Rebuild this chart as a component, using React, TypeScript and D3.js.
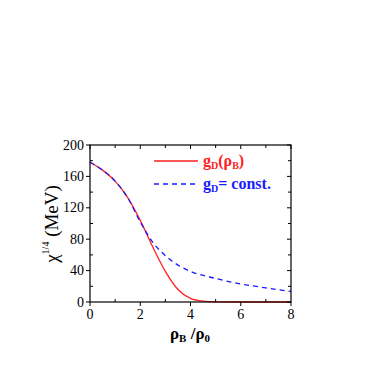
import React from "react";
import * as d3 from "d3";

const xTicks = [0, 2, 4, 6, 8];
const yTicks = [0, 40, 80, 120, 160, 200];
const redX = [0, 0.5, 1, 1.5, 2, 2.5, 3, 3.5, 4, 4.5, 5, 6, 7, 8];
const redY = [178, 168, 154, 133, 104, 70, 39, 16, 4.5, 1, 0.2, 0, 0, 0];
const blueX = [0, 0.5, 1, 1.5, 2, 2.5, 3, 3.5, 4, 5, 6, 7, 8];
const blueY = [178, 168, 154, 133, 102, 76, 59, 47, 39, 30, 23, 18, 13.5];

export default function App() {
  const W = 382, H = 365;
  const x = d3.scaleLinear().domain([0, 8]).range([90, 291]);
  const y = d3.scaleLinear().domain([0, 200]).range([302, 145]);
  const line = d3.line<[number, number]>().x(d => x(d[0])).y(d => y(d[1])).curve(d3.curveMonotoneX);
  const red = line(redX.map((v, i) => [v, redY[i]]))!;
  const blue = line(blueX.map((v, i) => [v, blueY[i]]))!;
  const font = "Liberation Serif, DejaVu Serif, serif";
  const minorX = d3.range(0, 8.01, 1);
  const minorY = d3.range(0, 200.1, 20);
  return (
    <svg width={W} height={H} style={{ position: "absolute", left: 0, top: 0, fontFamily: font }}>
      <rect x={0} y={0} width={W} height={H} fill="white" />
      <path d={red} fill="none" stroke="#ff2020" strokeWidth={1.3} />
      <path d={blue} fill="none" stroke="#1a1aff" strokeWidth={1.3} strokeDasharray="5,4" />
      <rect x={90} y={145} width={201} height={157} fill="none" stroke="black" strokeWidth={1.2} />
      {minorX.map(v => {
        const major = v % 2 === 0;
        return (
          <g key={"x" + v}>
            {major ? (
              <line x1={x(v)} x2={x(v)} y1={302} y2={306} stroke="black" />
            ) : (
              <line x1={x(v)} x2={x(v)} y1={302} y2={299} stroke="black" />
            )}
            <line x1={x(v)} x2={x(v)} y1={145} y2={145 + (major ? 4 : 3)} stroke="black" />
          </g>
        );
      })}
      {minorY.map(v => {
        const major = v % 40 === 0;
        return (
          <g key={"y" + v}>
            {major ? (
              <line x1={86} x2={90} y1={y(v)} y2={y(v)} stroke="black" />
            ) : (
              <line x1={90} x2={93} y1={y(v)} y2={y(v)} stroke="black" />
            )}
            <line x1={291} x2={291 - (major ? 4 : 3)} y1={y(v)} y2={y(v)} stroke="black" />
          </g>
        );
      })}
      {xTicks.map(v => (
        <text key={"xl" + v} x={x(v)} y={319} textAnchor="middle" fontSize={14}>{v}</text>
      ))}
      {yTicks.map(v => (
        <text key={"yl" + v} x={84} y={y(v) + 4.5} textAnchor="end" fontSize={14}>{v}</text>
      ))}
      <text x={190} y={339} textAnchor="middle" fontSize={17} fontWeight="bold">
        ρ<tspan fontSize={11} dy={3}>B</tspan>
        <tspan dy={-3}> /ρ</tspan>
        <tspan fontSize={11} dy={3}>0</tspan>
      </text>
      <text transform="translate(58,224) rotate(-90)" textAnchor="middle" fontSize={19}>
        χ<tspan fontSize={10} dy={-9}>1/4</tspan>
        <tspan dy={9}> (MeV)</tspan>
      </text>
      <line x1={154} x2={198} y1={161} y2={161} stroke="#ff2020" strokeWidth={1.3} />
      <text x={203} y={166} fontSize={16} fontWeight="bold" fill="#ff2020">
        g<tspan fontSize={10} dy={3}>D</tspan>
        <tspan dy={-3}>(ρ</tspan>
        <tspan fontSize={10} dy={3}>B</tspan>
        <tspan dy={-3}>)</tspan>
      </text>
      <line x1={154} x2={198} y1={184} y2={184} stroke="#1a1aff" strokeWidth={1.3} strokeDasharray="5,4" />
      <text x={203} y={189} fontSize={16} fontWeight="bold" fill="#1a1aff">
        g<tspan fontSize={10} dy={3}>D</tspan>
        <tspan dy={-3}>= const.</tspan>
      </text>
    </svg>
  );
}
